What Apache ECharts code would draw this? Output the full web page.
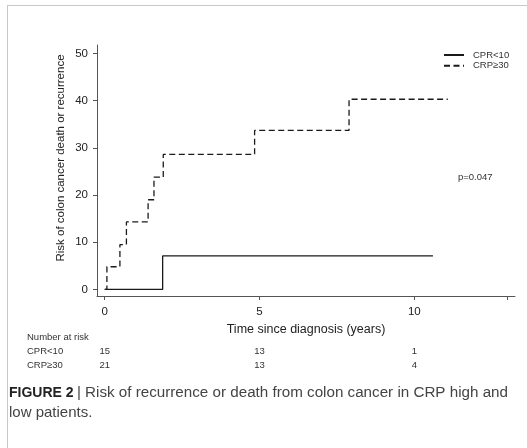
<!DOCTYPE html>
<html>
<head>
<meta charset="utf-8">
<script src="https://cdn.jsdelivr.net/npm/echarts@6/dist/echarts.min.js"></script>
<style>
html,body{margin:0;padding:0;background:#fff;}
#c{width:527px;height:448px;}
</style>
</head>
<body>
<div id="c"></div>
<script>
// ---- data ----
var seriesNames = ['CPR<10', 'CRP≥30'];
// step points [time (years), risk (%)]
var lowTimes  = [0, 1.87, 10.6];
var lowRisk   = [0, 7.1, 7.1];
var highTimes = [0, 0.07, 0.49, 0.70, 1.40, 1.59, 1.89, 4.84, 7.89, 11.08];
var highRisk  = [0, 4.8, 9.5, 14.3, 19.0, 23.8, 28.6, 33.7, 40.3, 40.3];
var xTicks = [0, 5, 10];
var yTicks = [0, 10, 20, 30, 40, 50];
var riskTimes = [0, 5, 10];
var riskLow  = [15, 13, 1];
var riskHigh = [21, 13, 4];
var pValueText = 'p=0.047';
var xTitle = 'Time since diagnosis (years)';
var yTitle = 'Risk of colon cancer death or recurrence';

function pairs(xs, ys){ return xs.map(function(x,i){ return [x, ys[i]]; }); }

var chart = echarts.init(document.getElementById('c'), null, {renderer:'canvas'});
var FONT = 'Liberation Sans, Arial, sans-serif';
var ink = '#333';

var option = {
  animation: false,
  backgroundColor: '#fff',
  textStyle: {fontFamily: FONT},
  grid: {left: 97, right: 12, top: 45, bottom: 152, containLabel: false},
  legend: {
    orient: 'vertical',
    left: 443, top: 50, padding: 0,
    itemWidth: 20, itemHeight: 7, itemGap: 0.8,
    itemStyle: {opacity: 0},
    textStyle: {fontSize: 9.5, lineHeight: 10, color: ink, fontFamily: FONT, padding:[0,0,0,4]},
    data: seriesNames.map(function(n){ return {name:n}; })
  },
  xAxis: {
    type: 'value', min: -0.25, max: 13.25,
    name: xTitle, nameLocation: 'middle', nameGap: 26,
    nameTextStyle: {fontSize: 12.5, color: '#222', fontFamily: FONT},
    axisLine: {show: true, onZero: false, lineStyle: {color: '#555', width: 1}},
    axisTick: {show: true, length: 4, inside: false, customValues: [0,5,10,13], lineStyle:{color:'#555'}},
    axisLabel: {customValues: xTicks, fontSize: 11.5, color: '#222', margin: 10, fontFamily: FONT},
    splitLine: {show: false}
  },
  yAxis: {
    type: 'value', min: -1.4, max: 51.8,
    axisLine: {show: true, onZero: false, lineStyle: {color: '#555', width: 1}},
    axisTick: {show: true, length: 4, customValues: yTicks, lineStyle:{color:'#555'}},
    axisLabel: {customValues: yTicks, fontSize: 11.5, color: '#222', margin: 9, fontFamily: FONT},
    splitLine: {show: false}
  },
  series: [
    {
      name: seriesNames[0], type: 'line', step: 'end', symbol: 'none',
      data: pairs(lowTimes, lowRisk),
      lineStyle: {color: '#1a1a1a', width: 1.3, type: 'solid'},
      itemStyle: {color: '#1a1a1a'}
    },
    {
      name: seriesNames[1], type: 'line', step: 'end', symbol: 'none',
      data: pairs(highTimes, highRisk),
      lineStyle: {color: '#1a1a1a', width: 1.3, type: [6, 3.5]},
      itemStyle: {color: '#1a1a1a'}
    }
  ]
};
chart.setOption(option);

// graphic texts positioned via the axis scale
var gx = function(t){ return chart.convertToPixel({xAxisIndex:0}, t); };
var g = [];
// frame lines
g.push({type:'line', shape:{x1:7, y1:5.5, x2:527, y2:5.5}, style:{stroke:'#c8c8c8', lineWidth:1}});
g.push({type:'line', shape:{x1:7.5, y1:5, x2:7.5, y2:448}, style:{stroke:'#c8c8c8', lineWidth:1}});
// y title
g.push({type:'text', x: 61, y: 158, rotation: Math.PI/2, style:{text: yTitle, fontSize: 11.5, fill:'#222', fontFamily: FONT, align:'center', verticalAlign:'middle'}});
// p value
g.push({type:'text', x: 458, y: 177, style:{text: pValueText, fontSize: 9.5, fill: ink, fontFamily: FONT, verticalAlign:'middle'}});
// number at risk
g.push({type:'text', x: 27, y: 337, style:{text:'Number at risk', fontSize: 9.5, fill: ink, fontFamily: FONT, verticalAlign:'middle'}});
var rowY = [351, 365];
var rows = [riskLow, riskHigh];
for (var r=0; r<2; r++){
  g.push({type:'text', x: 27, y: rowY[r], style:{text: seriesNames[r], fontSize: 9.5, fill: ink, fontFamily: FONT, verticalAlign:'middle'}});
  for (var i=0;i<riskTimes.length;i++){
    g.push({type:'text', x: gx(riskTimes[i]), y: rowY[r], style:{text: String(rows[r][i]), fontSize: 9.5, fill: ink, fontFamily: FONT, align:'center', verticalAlign:'middle'}});
  }
}
// caption
g.push({type:'text', x: 9, y: 393, style:{
  text: '{b|FIGURE 2} {n|| Risk of recurrence or death from colon cancer in CRP high and}',
  verticalAlign:'middle',
  rich:{ b:{fontSize: 14, fontWeight:'bold', fill:'#222', fontFamily: FONT},
         n:{fontSize: 15.2, fill:'#444', fontFamily: FONT} }
}});
g.push({type:'text', x: 9, y: 413, style:{text:'low patients.', fontSize: 15, fill:'#444', fontFamily: FONT, verticalAlign:'middle'}});
chart.setOption({graphic: g});
</script>
</body>
</html>
